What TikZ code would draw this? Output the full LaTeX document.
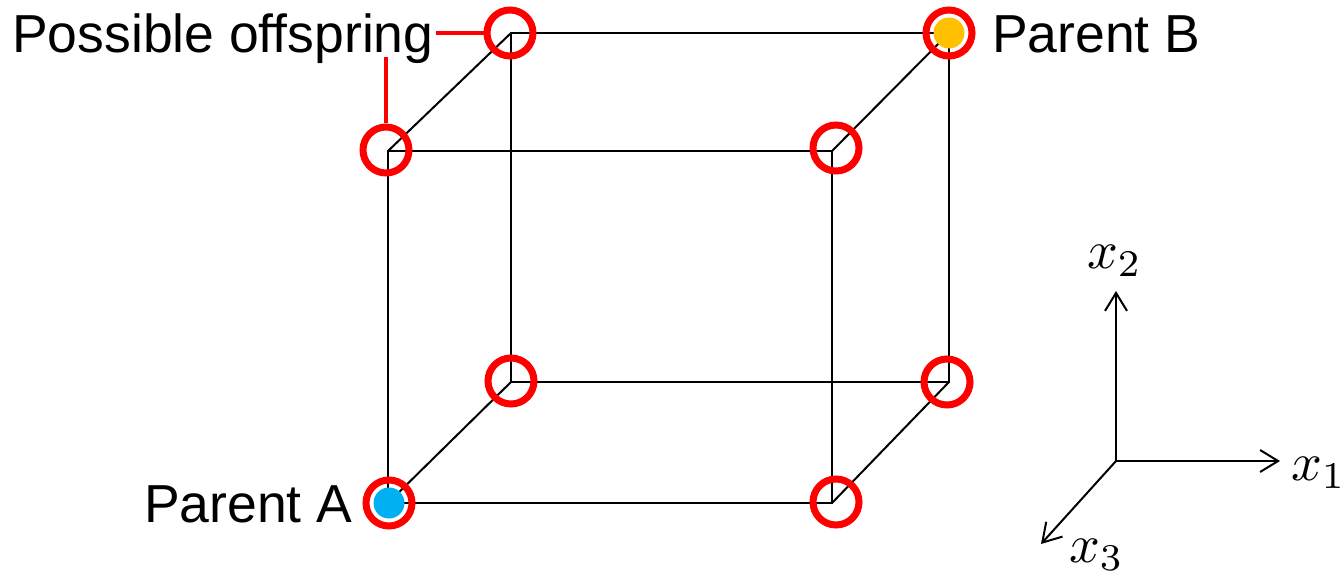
\documentclass[tikz,border=0pt]{standalone}
\usepackage{fontspec}
\setmainfont{Liberation Sans}
\usetikzlibrary{arrows.meta}
\definecolor{ringred}{RGB}{255,0,0}
\definecolor{parentblue}{RGB}{0,176,240}
\definecolor{parentorange}{RGB}{255,192,0}
\begin{document}
\begin{tikzpicture}[x=1pt,y=-1pt,
  edge/.style={draw=black,line width=2pt},
  ring/.style={circle,draw=ringred,line width=7pt,minimum size=46pt,inner sep=0pt},
  dot/.style={circle,inner sep=0pt,minimum size=31pt},
  leader/.style={draw=ringred,line width=3.5pt},
  axis/.style={draw=black,line width=2pt,-{Straight Barb[length=18pt,width=22pt,line width=2pt]}},
  lab/.style={inner sep=0pt,anchor=base west,font=\fontsize{53.5}{60}\selectfont},
  mlab/.style={inner sep=0pt,anchor=base west,scale=5.4}]
\useasboundingbox (0,0) rectangle (1343,575);
% cube vertices
\coordinate (btl) at (511,33);
\coordinate (btr) at (949,33);
\coordinate (bbl) at (511,382);
\coordinate (bbr) at (949,382);
\coordinate (ftl) at (388,151);
\coordinate (ftr) at (832,151);
\coordinate (fbl) at (388,503);
\coordinate (fbr) at (832,503);
% edges
\draw[edge] (btl) -- (btr) -- (bbr) -- (bbl) -- cycle;
\draw[edge] (ftl) -- (ftr) -- (fbr) -- (fbl) -- cycle;
\draw[edge] (btl) -- (ftl);
\draw[edge] (btr) -- (ftr);
\draw[edge] (bbl) -- (fbl);
\draw[edge] (bbr) -- (fbr);
% parent fills
\node[dot,fill=parentblue] (pa) at (389,503) {};
\node[dot,fill=parentorange] (pb) at (949,33) {};
% rings
\node[ring] (r1) at (510,33) {};
\node[ring] (r2) at (949,33) {};
\node[ring] (r3) at (511,381) {};
\node[ring] (r4) at (947,382) {};
\node[ring] (r5) at (386,150) {};
\node[ring] (r6) at (836,148) {};
\node[ring] (r7) at (389,503) {};
\node[ring] (r8) at (836,502) {};
% labels
\node[lab] (po) at (12,53) {Possible offspring};
\node[lab] (lb) at (992,53) {Parent B};
\node[lab] (la) at (144,522) {Parent A};
% leaders
\coordinate (l1) at (436,33);
\coordinate (l2) at (386,57);
\draw[leader] (l1) -- (r1.west);
\draw[leader] (l2) -- (r5.north -| l2);
% axes
\coordinate (o) at (1116,461);
\coordinate (a1) at (1280,461);
\coordinate (a2) at (1116,291);
\coordinate (a3) at (1041,544);
\draw[axis] (o) -- (a1);
\draw[axis] (o) -- (a2);
\draw[axis] (o) -- (a3);
\node[mlab] (x1) at (1290,480) {$x_1$};
\node[mlab] (x2) at (1086,268) {$x_2$};
\node[mlab] (x3) at (1068,562) {$x_3$};
\end{tikzpicture}
\end{document}
